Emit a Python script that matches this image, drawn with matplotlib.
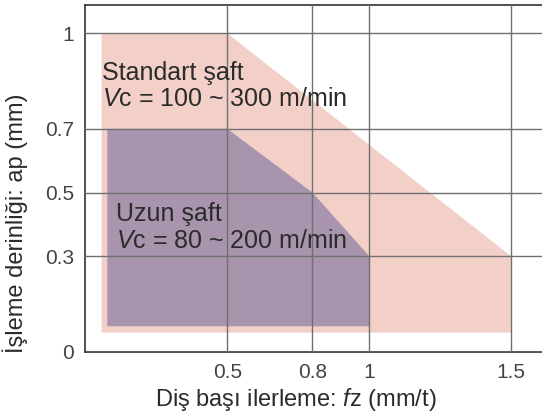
import matplotlib.pyplot as plt

plt.rcParams["font.family"] = ["Liberation Sans", "DejaVu Sans"]
plt.rcParams["mathtext.fontset"] = "custom"
plt.rcParams["mathtext.rm"] = "Liberation Sans"
plt.rcParams["mathtext.it"] = "Liberation Sans:italic"

# feed per tooth fz (mm/t) and depth of cut ap (mm)
standard_fz = [0.057, 0.5, 1.5, 1.5, 0.057]
standard_ap = [1.0, 1.0, 0.3, 0.06, 0.06]
long_fz = [0.077, 0.5, 0.8, 1.0, 1.0, 0.077]
long_ap = [0.7, 0.7, 0.5, 0.3, 0.08, 0.08]

x_ticks = [0.5, 0.8, 1, 1.5]
x_tick_labels = ["0.5", "0.8", "1", "1.5"]
y_ticks = [0, 0.3, 0.5, 0.7, 1]
y_tick_labels = ["0", "0.3", "0.5", "0.7", "1"]

text_color = "#2b2b2b"

fig = plt.figure(figsize=(5.42, 4.18), dpi=100)
ax = fig.add_axes([0.1576, 0.1586, 0.8424, 0.8302])

ax.fill(standard_fz, standard_ap, color="#f2d0c8", lw=0, zorder=1)
ax.fill(long_fz, long_ap, color="#a994ae", lw=0, zorder=2)

ax.set_xlim(0, 1.609)
ax.set_ylim(0, 1.09)
ax.set_xticks(x_ticks, x_tick_labels)
ax.set_yticks(y_ticks, y_tick_labels)
ax.tick_params(length=0, labelsize=15, labelcolor="#444444", pad=8)
ax.grid(True, color="#707070", lw=1.0, zorder=3)
ax.set_axisbelow(False)

for side in ["left", "bottom", "top"]:
    ax.spines[side].set_color("#333333")
    ax.spines[side].set_linewidth(1.2)
ax.spines["right"].set_visible(False)

ax.text(0.059, 0.854, "Standart şaft", fontsize=18, color=text_color, zorder=4)
ax.text(0.059, 0.771, "$\\it{V}$c = 100 ~ 300 m/min", fontsize=18, color=text_color, zorder=4)
ax.text(0.108, 0.411, "Uzun şaft", fontsize=18, color=text_color, zorder=4)
ax.text(0.108, 0.326, "$\\it{V}$c = 80 ~ 200 m/min", fontsize=18, color=text_color, zorder=4)

ax.set_xlabel("Diş başı ilerleme: $\\it{f}$z (mm/t)", fontsize=17, color=text_color)
ax.set_ylabel("İşleme derinliği: ap (mm)", fontsize=17, color=text_color)
ax.xaxis.set_label_coords(0.461, -0.139)
ax.yaxis.set_label_coords(-0.154, 0.371)
ax.xaxis.label.set_va("center")
ax.yaxis.label.set_va("center")

fig.savefig("out.png", dpi=100)
